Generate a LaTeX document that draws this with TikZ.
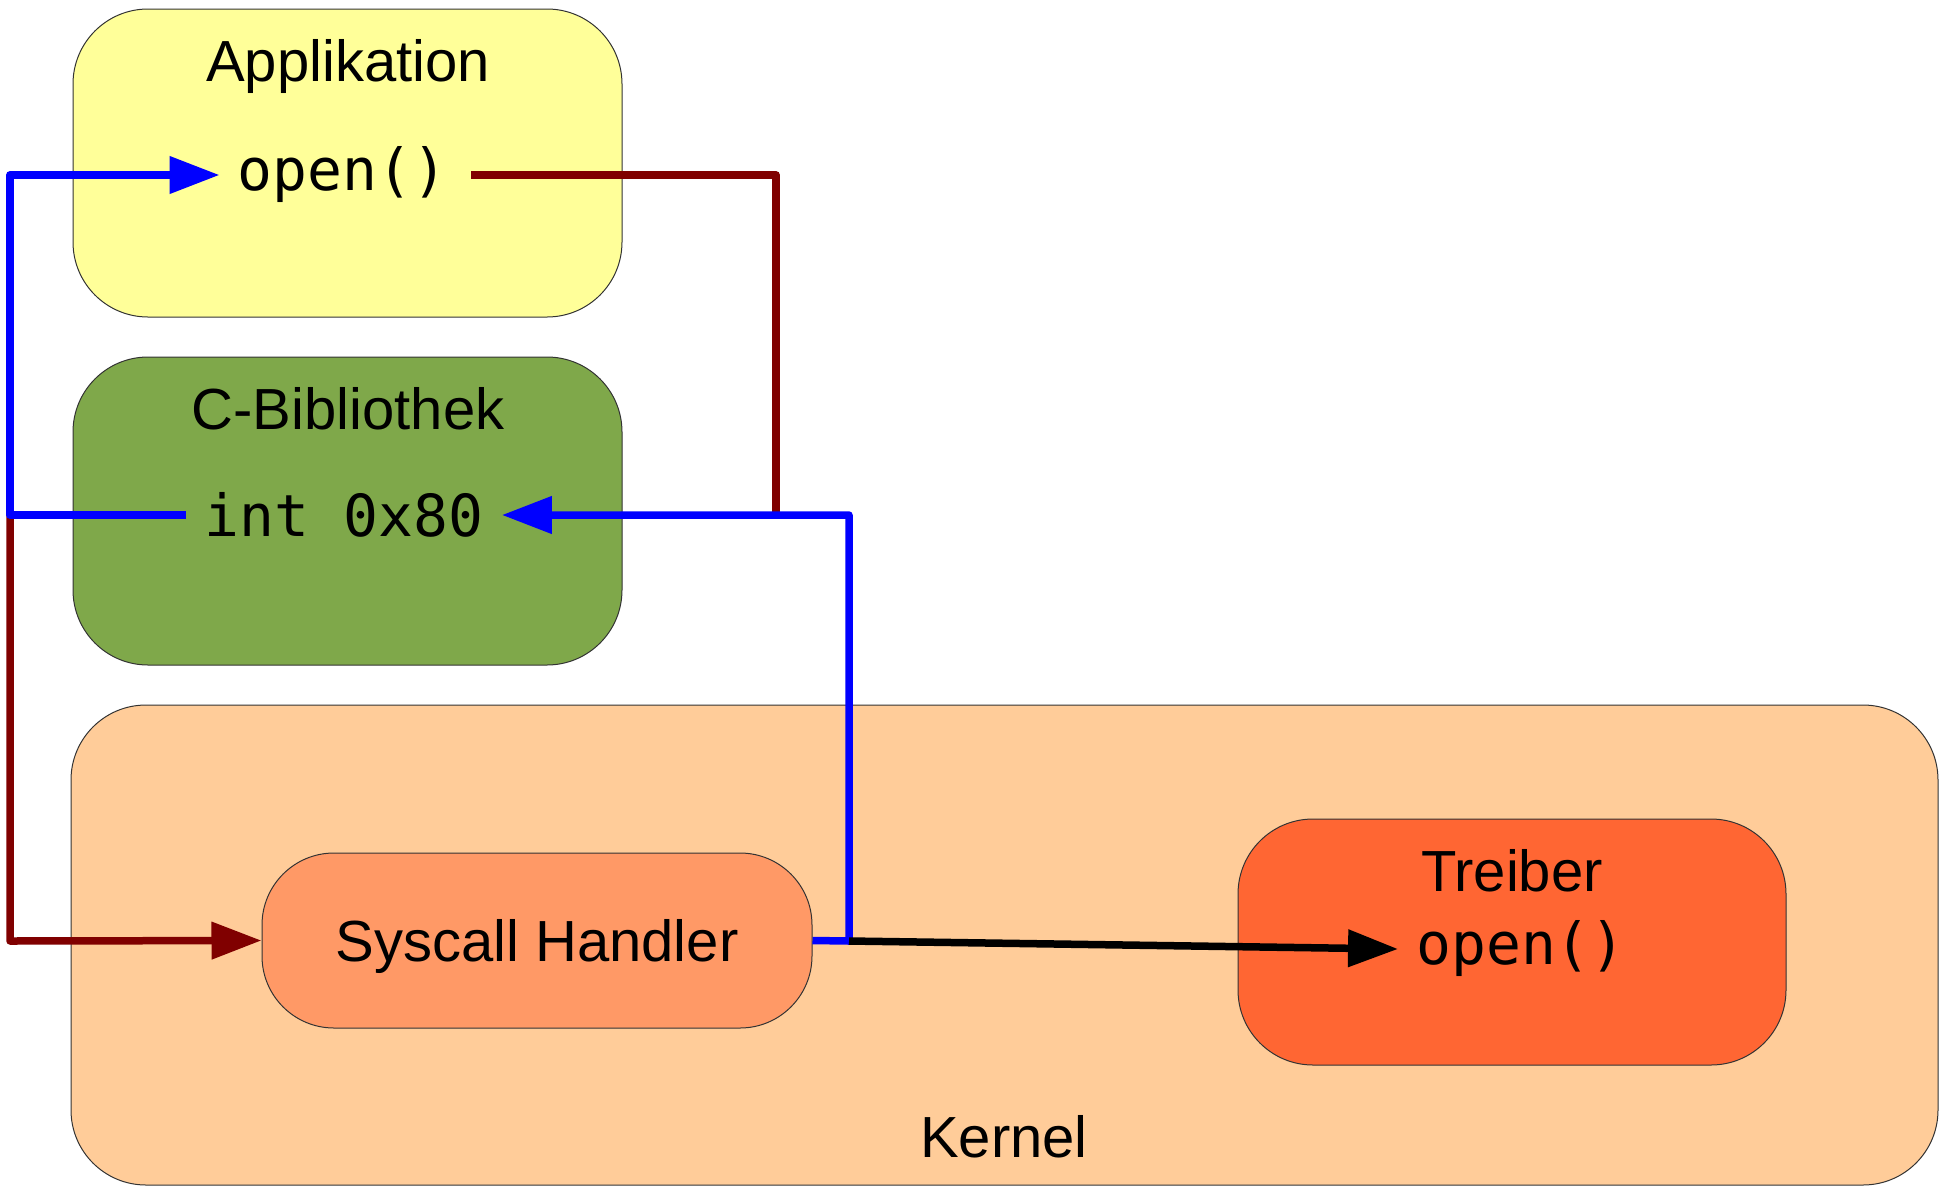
\documentclass[tikz,border=0pt]{standalone}
\usepackage{fontspec}
\setmainfont{Liberation Sans}
\newfontfamily\codefont{DejaVu Sans Mono}
\usetikzlibrary{arrows.meta}

\definecolor{appyellow}{HTML}{FFFF99}
\definecolor{libgreen}{HTML}{7FA84A}
\definecolor{kernelorange}{HTML}{FFCC99}
\definecolor{syscallorange}{HTML}{FF9966}
\definecolor{driverorange}{HTML}{FF6633}
\definecolor{retred}{HTML}{800000}
\definecolor{callblue}{HTML}{0000FF}

\begin{document}
\begin{tikzpicture}[x=1pt,y=-1pt,
  box/.style={draw=black!80, line width=1pt, rounded corners=75pt, inner sep=0pt},
  lbl/.style={font=\fontsize{58}{70}\selectfont, inner sep=0pt, anchor=base},
  code/.style={font=\codefont\fontsize{58}{70}\selectfont, inner sep=18pt},
  flow/.style={line width=7.5pt, line join=round},
  tip/.style={-{Triangle[length=50pt,width=36pt]}}]

\useasboundingbox (0,0) rectangle (1949,1192);

% layers
\node[box, fill=kernelorange, minimum width=1867pt, minimum height=480pt] (kernel) at (1004.5,945) {};
\node[box, fill=appyellow, minimum width=549pt, minimum height=308pt] (app) at (347.5,163) {};
\node[box, fill=libgreen, minimum width=549pt, minimum height=308pt] (lib) at (347.5,511) {};
\node[box, fill=syscallorange, minimum width=550pt, minimum height=175pt, rounded corners=72pt] (sys) at (537,940.5) {};
\node[box, fill=driverorange, minimum width=548pt, minimum height=246pt] (drv) at (1512,942) {};

% labels
\node[lbl] (applbl) at (348,81) {Applikation};
\node[lbl] (liblbl) at (348,429) {C-Bibliothek};
\node[lbl] (syslbl) at (537,961) {Syscall Handler};
\node[lbl] (drvlbl) at (1512,891) {Treiber};
\node[lbl] (kernlbl) at (1004,1157) {Kernel};

% code snippets
\node[code] (appopen) at (342.5,175) {open()};
\node[code] (libint) at (344,515) {int 0x80};
\node[code] (drvopen) at (1521,949) {open()};

% routing points
\coordinate (leftup) at (10,175);
\coordinate (leftmid) at (10,515);
\coordinate (leftlow) at (10,941);
\coordinate (redturn) at (776,175);
\coordinate (redend) at (776,515);
\coordinate (branch) at (849,941);
\coordinate (blueup) at (849,515);

% call path: application -> library -> kernel
\draw[flow, retred] ([xshift=6pt]appopen.east) -- (redturn) -- (redend);
\draw[flow, retred, tip] (leftmid) -- (leftlow) -- (sys.west);

% return path
\draw[flow, callblue, tip] (libint.west) -- (leftmid) -- (leftup) -- (appopen.west);
\draw[flow, callblue, tip] (sys.east) -- (branch) -- (blueup) -- (libint.east);

% dispatch to the driver
\draw[flow, black, tip] (branch) -- (drvopen.west);
\end{tikzpicture}
\end{document}
